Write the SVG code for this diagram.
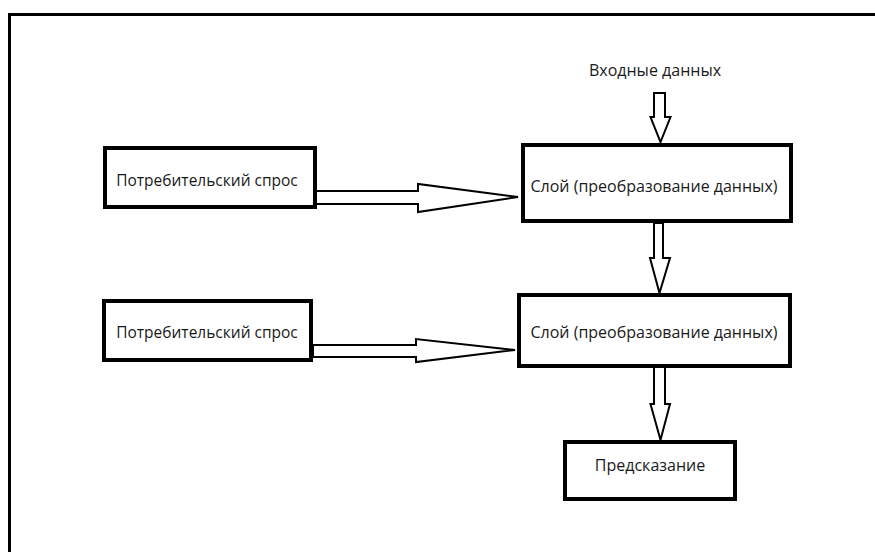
<svg xmlns="http://www.w3.org/2000/svg" width="875" height="552" viewBox="0 0 875 552">
<style>
.box{fill:#fff;stroke:#000;stroke-width:4}
.arr{fill:#fff;stroke:#000;stroke-width:2;stroke-linejoin:miter}
.t{font-family:"Open Sans","Liberation Sans",sans-serif;font-size:16px;fill:#1a1a1a;text-anchor:middle;dominant-baseline:central}
.s{font-size:15.5px}
</style>
<rect width="875" height="552" fill="#fff"/>
<path d="M9.5 552 V14.5 H875" fill="none" stroke="#000" stroke-width="3"/>
<g id="connectors">
<path class="arr" d="M316 191 H418 V184 L518 197 L418 212 V204 H316 Z"/>
<path class="arr" d="M313 345 H416 V339 L515 350 L416 362 V357 H313 Z"/>
<path class="arr" d="M654 93 H665 V117 H670.5 L660.5 142 L650.5 117 H654 Z"/>
<path class="arr" d="M654 223 H663 V258 H670 L659.5 293 L650 258 H654 Z"/>
<path class="arr" d="M654 366 H665 V404 H670 L660.5 440 L650.5 404 H654 Z"/>
</g>
<g id="input"><text class="t" x="655" y="70">Входные данных</text></g>
<g id="demand1"><rect class="box" x="105" y="148" width="210" height="59"/><text class="t s" x="207" y="180">Потребительский спрос</text></g>
<g id="layer1"><rect class="box" x="523" y="145" width="268" height="76"/><text class="t" x="654" y="186">Слой (преобразование данных)</text></g>
<g id="demand2"><rect class="box" x="104" y="301" width="207" height="59"/><text class="t s" x="207" y="332">Потребительский спрос</text></g>
<g id="layer2"><rect class="box" x="519" y="295" width="271" height="71"/><text class="t" x="654" y="332">Слой (преобразование данных)</text></g>
<g id="prediction"><rect class="box" x="565" y="442" width="170" height="57"/><text class="t" x="650" y="465">Предсказание</text></g>
</svg>
